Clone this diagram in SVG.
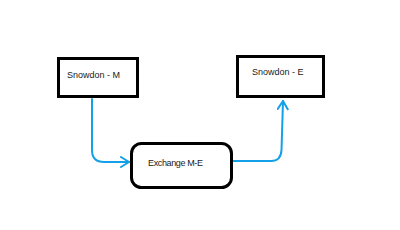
<svg xmlns="http://www.w3.org/2000/svg" width="400" height="230" viewBox="0 0 400 230">
<style>
.box{fill:#fff;stroke:#000;stroke-width:3}
.lbl{font-family:"Liberation Sans",Arial,sans-serif;font-size:9px;fill:#1a1a1a}
.conn{fill:none;stroke:#14a0e6;stroke-width:2;stroke-linecap:round;stroke-linejoin:round}
</style>
<defs>
<marker id="arr" viewBox="0 0 12 12" refX="10" refY="6" markerWidth="12" markerHeight="12" markerUnits="userSpaceOnUse" orient="auto">
<path d="M2,1 L10,6 L2,11" fill="none" stroke="#14a0e6" stroke-width="2" stroke-linecap="round" stroke-linejoin="round"/>
</marker>
</defs>
<rect width="400" height="230" fill="#fff"/>
<g id="connectors">
<path class="conn" d="M92,99 V150 Q92,162 104,162 H129" marker-end="url(#arr)"/>
<path class="conn" d="M233,161 H271 Q281,161 281.5,150 L283,101" marker-end="url(#arr)"/>
</g>
<g id="snowdon-m">
<rect class="box" x="58.5" y="58.5" width="79" height="38"/>
<text class="lbl" x="67" y="78">Snowdon - M</text>
</g>
<g id="snowdon-e">
<rect class="box" x="237.5" y="56.5" width="86" height="40"/>
<text class="lbl" x="252" y="75">Snowdon - E</text>
</g>
<g id="exchange">
<rect class="box" x="131.5" y="143.5" width="100" height="44" rx="10"/>
<text class="lbl" x="148" y="166" textLength="55">Exchange M-E</text>
</g>
</svg>
